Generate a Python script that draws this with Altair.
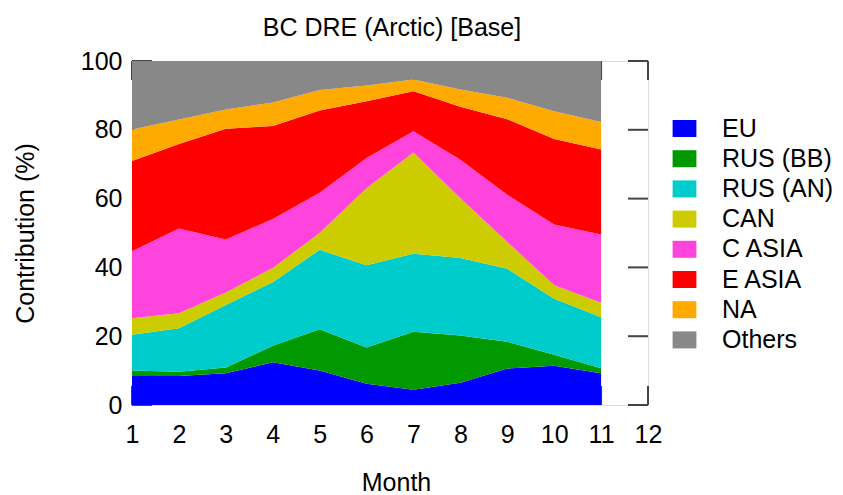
import altair as alt
import pandas as pd

months = [1, 2, 3, 4, 5, 6, 7, 8, 9, 10, 11]
series_names = ["EU", "RUS (BB)", "RUS (AN)", "CAN", "C ASIA", "E ASIA", "NA", "Others"]
series_colors = ["#0000FF", "#009900", "#00CCCC", "#CCCC00", "#FF44DD", "#FF0000", "#FFAA00", "#888888"]

eu      = [8.4, 8.4, 9.2, 12.4, 10.0, 6.2, 4.4, 6.5, 10.6, 11.4, 9.2]
rus_bb  = [1.6, 1.3, 1.7, 4.8, 12.0, 10.5, 16.9, 13.7, 7.8, 3.2, 1.5]
rus_an  = [10.4, 12.6, 18.2, 18.5, 23.1, 23.9, 22.7, 22.5, 21.2, 16.3, 14.8]
can     = [4.8, 4.4, 3.6, 4.1, 4.9, 22.4, 29.4, 17.4, 7.8, 3.9, 4.2]
c_asia  = [19.5, 24.6, 15.4, 14.3, 11.7, 8.8, 6.2, 11.2, 13.7, 17.7, 19.9]
e_asia  = [26.2, 24.6, 32.2, 27.0, 23.9, 16.5, 11.6, 15.4, 22.0, 24.8, 24.7]
na      = [9.2, 7.1, 5.6, 6.8, 6.0, 4.6, 3.4, 5.0, 6.2, 8.1, 8.0]
others  = [19.9, 17.0, 14.1, 12.1, 8.4, 7.1, 5.4, 8.3, 10.7, 14.6, 17.7]

x_ticks = [1, 2, 3, 4, 5, 6, 7, 8, 9, 10, 11, 12]
y_ticks = [0, 20, 40, 60, 80, 100]

all_series = [eu, rus_bb, rus_an, can, c_asia, e_asia, na, others]
rows = []
for idx, (name, vals) in enumerate(zip(series_names, all_series)):
    for m, v in zip(months, vals):
        rows.append({"month": m, "value": v, "region": name, "idx": idx})
df = pd.DataFrame(rows)

FONT = "Liberation Sans"
W, H = 516, 344
TICK_Y = 19 / H * 100      # tick length in data units (vertical)
TICK_X = 20 / W * 11       # tick length in data units (horizontal)

xscale = alt.Scale(domain=[1, 12], nice=False, zero=False)
yscale = alt.Scale(domain=[0, 100], nice=False)

# inward tick marks (drawn beneath areas)
yt = pd.DataFrame({"y": y_ticks})
xt = pd.DataFrame({"x": x_ticks})
tick_color = "#444444"
right_ticks = alt.Chart(yt).mark_rule(color=tick_color, strokeWidth=2).encode(
    x=alt.datum(12 - TICK_X, scale=xscale), x2=alt.datum(12), y=alt.Y("y:Q", scale=yscale))
left_ticks = alt.Chart(yt).mark_rule(color=tick_color, strokeWidth=2).encode(
    x=alt.datum(1, scale=xscale), x2=alt.datum(1 + TICK_X), y=alt.Y("y:Q", scale=yscale))
top_ticks = alt.Chart(xt).mark_rule(color=tick_color, strokeWidth=2).encode(
    x=alt.X("x:Q", scale=xscale), y=alt.datum(100, scale=yscale), y2=alt.datum(100 - TICK_Y))
bot_ticks = alt.Chart(xt).mark_rule(color=tick_color, strokeWidth=2).encode(
    x=alt.X("x:Q", scale=xscale), y=alt.datum(0, scale=yscale), y2=alt.datum(TICK_Y))

areas = alt.Chart(df).mark_area(interpolate="linear", strokeWidth=0, opacity=1).encode(
    x=alt.X("month:Q", scale=xscale,
            axis=alt.Axis(values=x_ticks, title="Month", grid=False, domain=False, ticks=False,
                          labelFontSize=25, labelFont=FONT, labelColor="black",
                          labelBaseline="alphabetic", labelPadding=37, labelFlush=False,
                          titleFontSize=25, titleFont=FONT, titleFontWeight="normal",
                          titleColor="black", titleBaseline="alphabetic",
                          titleX=264, titleY=85)),
    y=alt.Y("value:Q", stack="zero", scale=yscale,
            axis=alt.Axis(values=y_ticks, title="Contribution (%)", grid=False, domain=False,
                          ticks=False, labelFontSize=25, labelFont=FONT, labelColor="black",
                          labelPadding=10, labelFlush=False,
                          titleFontSize=25, titleFont=FONT, titleFontWeight="normal",
                          titleColor="black", titleBaseline="alphabetic", titleAngle=-90,
                          titleAlign="center", titleX=-99, titleY=172)),
    color=alt.Color("region:N", sort=series_names,
                    scale=alt.Scale(domain=series_names, range=series_colors),
                    legend=alt.Legend(title=None, orient="none", legendX=540, legendY=55,
                                      labelFontSize=25, labelFont=FONT, labelColor="black",
                                      symbolType="M-1.4,-1H1.4V1H-1.4Z", symbolSize=289,
                                      symbolStrokeWidth=0, symbolOpacity=1,
                                      labelOffset=25, rowPadding=4.2, padding=0)),
    order=alt.Order("idx:Q"),
)

chart = alt.layer(right_ticks, left_ticks, top_ticks, bot_ticks, areas).properties(
    width=W, height=H,
    title=alt.TitleParams("BC DRE (Arctic) [Base]", fontSize=25, font=FONT, fontWeight="normal",
                          color="black", anchor="middle", frame="group", baseline="alphabetic",
                          offset=23, dx=2, dy=35),
    autosize=alt.AutoSizeParams(type="none"),
    padding={"left": 132, "top": 61, "right": 195, "bottom": 90},
).configure_view(stroke="#333333", strokeWidth=2).configure(background="white")

chart.save("out.html", embed_options={"renderer": "svg", "actions": False})
